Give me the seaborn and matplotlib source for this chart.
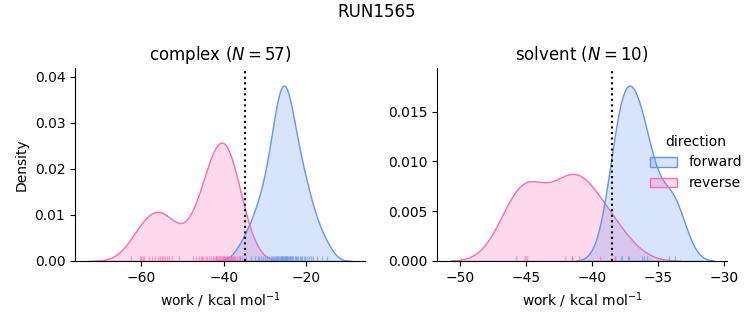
import numpy as np
import pandas as pd
import matplotlib
matplotlib.use("Agg")
import matplotlib.pyplot as plt
import seaborn as sns

# complex phase work values (kcal/mol)
complex_forward = [-36.0, -34.6, -33.4, -32.5, -31.7, -31.0, -30.4, -29.9, -29.4, -29.0,
                   -28.6, -28.2, -27.9, -27.6, -27.3, -27.0, -26.8, -26.6, -26.4, -26.2,
                   -26.0, -25.8, -25.6, -25.4, -25.2, -25.0, -24.8, -24.6, -24.4, -24.2,
                   -24.0, -23.7, -23.4, -23.1, -22.8, -22.5, -22.2, -21.9, -21.6, -21.3,
                   -21.0, -20.6, -20.2, -19.8, -19.3, -18.9, -18.3, -17.3, -16.2, -14.9,
                   -31.5, -25.9, -25.3, -27.2, -24.7, -28.0, -23.9]
complex_reverse = [-62.5, -60.4, -60.0, -59.7, -59.3, -58.2, -57.5, -56.6, -55.6, -55.1,
                   -54.7, -54.3, -53.9, -53.2, -52.5, -50.8, -47.5, -46.8, -46.1, -45.6,
                   -45.0, -44.3, -43.5, -43.1, -42.7, -42.3, -41.9, -41.6, -41.3, -41.0,
                   -40.7, -40.5, -40.3, -40.1, -39.9, -39.7, -39.5, -39.3, -39.1, -38.9,
                   -38.7, -38.5, -38.3, -38.1, -37.8, -37.5, -37.2, -36.8, -36.3, -35.5,
                   -41.8, -41.1, -45.3, -44.0, -42.0, -38.2, -56.0]
# solvent phase work values
solvent_forward = [-38.27, -37.80, -37.75, -37.20, -37.25, -36.24, -36.09, -35.83, -34.20, -33.70]
solvent_reverse = [-45.78, -45.05, -45.05, -44.92, -42.05, -41.53, -41.53, -40.96, -39.43, -38.27]

phases = ["complex", "solvent"]
n_values = {"complex": 57, "solvent": 10}
dg_estimates = {"complex": -34.8, "solvent": -38.5}

rows = []
for phase, fwd, rev in [("complex", complex_forward, complex_reverse),
                        ("solvent", solvent_forward, solvent_reverse)]:
    for v in fwd:
        rows.append((phase, "forward", v))
    for v in rev:
        rows.append((phase, "reverse", v))
df = pd.DataFrame(rows, columns=["phase", "direction", "work"])

palette = {"forward": "cornflowerblue", "reverse": "hotpink"}

g = sns.displot(data=df, x="work", hue="direction", col="phase", kind="kde",
                fill=True, rug=True, palette=palette, col_order=phases,
                hue_order=["forward", "reverse"], rug_kws=dict(alpha=0.6),
                facet_kws=dict(sharex=False, sharey=False))

g.figure.set_size_inches(7.53, 3.25)
g.figure.subplots_adjust(left=75/753, right=727/753, bottom=1-261/325,
                         top=1-68/325, wspace=0.248)

for ax, phase in zip(g.axes.flat, phases):
    ax.set_title(f"{phase} ($N = {n_values[phase]}$)", fontsize=12)
    ax.axvline(dg_estimates[phase], color="black", linestyle=":", linewidth=1.5)
    ax.set_xlabel("work / kcal mol$^{-1}$")

g.axes.flat[0].set_ylabel("Density")
g.axes.flat[1].set_ylabel("")

sns.move_legend(g, "center left", bbox_to_anchor=(0.846, 0.5), frameon=False)
g.figure.suptitle("RUN1565", fontsize=12, y=0.99)

g.figure.savefig("out.png", dpi=100)
